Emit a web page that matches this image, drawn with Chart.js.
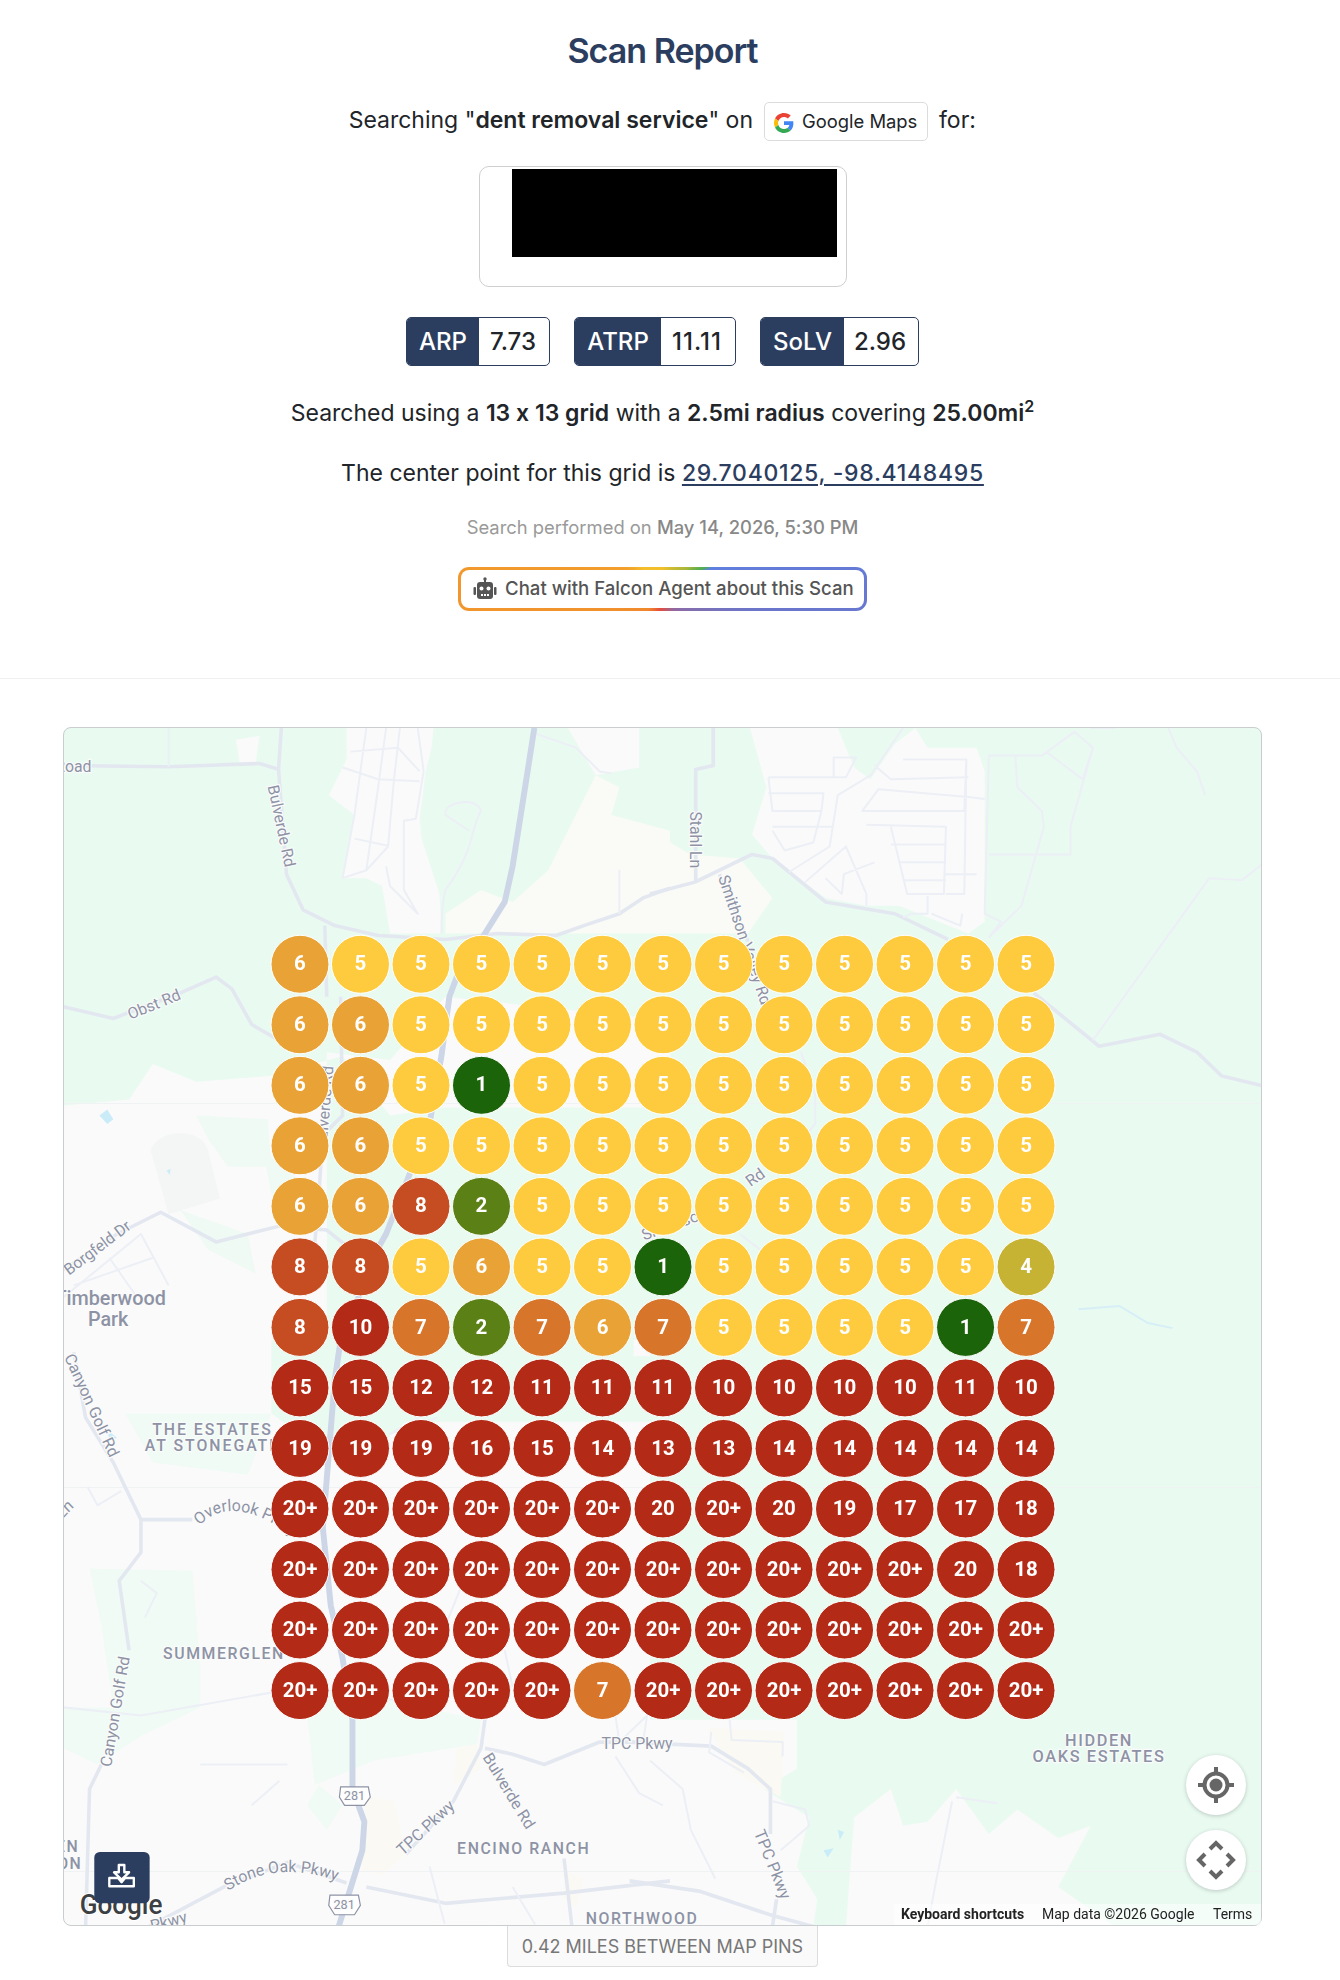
<!DOCTYPE html>
<html lang="en">
<head>
<meta charset="UTF-8">
<title>Scan Report</title>
<script src="https://cdn.jsdelivr.net/npm/chart.js@4"></script>
<style>
  html, body { margin: 0; padding: 0; background: #fff; }
  body { position: relative; width: 1340px; height: 1980px; overflow: hidden; font-family: Inter, sans-serif; font-feature-settings: "calt" 0; color: #212529; }
  .line { position: absolute; left: 0; width: 1325px; text-align: center; white-space: nowrap; }
  h1 { position: absolute; left: 0; width: 1325px; top: 28px; margin: 0; text-align: center; font-size: 34px; line-height: 46px; font-weight: 600; letter-spacing: -1px; color: #2c3e5f; }
  b { font-weight: 600; }
  a { color: #2c3e5f; font-weight: 500; letter-spacing: .7px; text-decoration: underline; text-decoration-thickness: 2px; text-underline-offset: 3px; }
  sup { font-size: 16px; line-height: 0; }
  .maps-pill { position: absolute; left: 764px; top: 102px; width: 164px; height: 39px; box-sizing: border-box; border: 1px solid #dcdcdc; border-radius: 5px; font-size: 18.4px; line-height: 37px; padding-left: 37px; color: #212529; }
  .maps-pill svg { position: absolute; left: 9px; top: 10px; }
  .logo-box { position: absolute; left: 479px; top: 166px; width: 368px; height: 121px; box-sizing: border-box; border: 1px solid #cfcfcf; border-radius: 10px; }
  .redact { position: absolute; left: 512px; top: 169px; width: 325px; height: 88px; background: #000; }
  .badge { position: absolute; top: 317px; height: 49px; box-sizing: border-box; border: 1px solid #2c3e5f; border-radius: 5px; font-size: 24px; line-height: 47px; font-weight: 500; overflow: hidden; background: #fff; }
  .badge span { position: absolute; top: 0; bottom: 0; left: 0; background: #2c3e5f; color: #fff; text-align: center; }
  .badge i { position: absolute; top: 0; bottom: 0; right: 0; font-style: normal; text-align: center; }
  .chat { position: absolute; left: 458px; top: 567px; width: 409px; height: 44px; box-sizing: border-box; padding: 3px; border-radius: 11px;
    background: conic-gradient(#f0c02a 0deg, #a9b63a 50deg, #4caf50 63deg, #5f80e0 67deg, #6a76cc 100deg, #7d70b5 117deg, #9368a0 150deg, #e64c3c 187deg, #f0862e 215deg, #f2a02c 300deg, #f5bd2c 316deg, #f0c02a 360deg); }
  .chat div { position: relative; height: 38px; background: #fff; border-radius: 8px; font-size: 18.6px; font-weight: 500; color: #555; line-height: 36px; padding-left: 44px; white-space: nowrap; }
  .chat svg { position: absolute; left: 11px; top: 6px; }
  .divider { position: absolute; left: 0; right: 0; top: 678px; height: 1px; background: #efefef; }
  #map { position: absolute; left: 0; top: 0; }
  #map text { font-family: Roboto, sans-serif; fill: #8d93a5; stroke: #fbfbfb; stroke-width: 6px; paint-order: stroke; }
  .frame { position: absolute; left: 63px; top: 727px; width: 1199px; height: 1199px; box-sizing: border-box; border: 1px solid #c9cdd0; border-radius: 8px; pointer-events: none; }
  #gridChart { position: absolute; left: 63px; top: 727px; }
  .ctrl { position: absolute; left: 1186px; width: 60px; height: 60px; border-radius: 50%; background: #fff; box-shadow: 0 1px 4px rgba(0,0,0,.2); }
  .ctrl svg { position: absolute; left: 0; top: 0; }
  .attrib { position: absolute; top: 1904px; left: 894px; height: 21px; width: 367px; background: rgba(255,255,255,.5); font: 14px/21px Roboto, sans-serif; color: #222; white-space: nowrap; }
  .attrib span { position: absolute; top: 0; }
  .miles { position: absolute; left: 507px; top: 1926px; width: 311px; height: 41px; box-sizing: border-box; border: 1px solid #dcdcdc; border-top: 0; border-radius: 0 0 4px 4px; background: #fafafa; text-align: center; font-size: 18px; line-height: 42px; color: #777; white-space: nowrap; }
</style>
</head>
<body>

<h1>Scan Report</h1>
<div class="line" style="top:105px;left:-115px;font-size:23px;line-height:30px;text-align:right;width:868px">Searching "<b>dent removal service</b>" on</div>
<div class="maps-pill">
  <svg width="20" height="20" viewBox="0 0 48 48"><path fill="#EA4335" d="M24 9.500c3.500 0 6.700 1.200 9.200 3.600l6.900-6.900C35.900 2.400 30.500 0 24 0 14.600 0 6.500 5.400 2.600 13.200l8 6.200C12.400 13.700 17.700 9.500 24 9.500z"/><path fill="#4285F4" d="M46.500 24.500c0-1.600-.1-3.100-.4-4.500H24v9h12.700c-.6 3-2.200 5.500-4.700 7.200l7.700 6c4.500-4.200 6.800-10.300 6.800-17.700z"/><path fill="#FBBC05" d="M10.500 28.600c-.5-1.400-.8-3-.8-4.600s.3-3.200.8-4.600l-8-6.200C.9 16.500 0 20.100 0 24s.9 7.500 2.600 10.800l7.900-6.200z"/><path fill="#34A853" d="M24 48c6.500 0 11.900-2.100 15.900-5.800l-7.700-6c-2.200 1.500-4.900 2.300-8.200 2.300-6.300 0-11.600-4.200-13.500-9.900l-8 6.200C6.500 42.600 14.600 48 24 48z"/></svg>
  Google Maps
</div>
<div class="line" style="top:105px;left:939px;width:40px;font-size:23px;line-height:30px;text-align:left">for:</div>

<div class="logo-box"></div>
<div class="redact"></div>

<div class="badge" style="left:406px;width:144px"><span style="width:72px">ARP</span><i style="width:72px">7.73</i></div>
<div class="badge" style="left:574px;width:162px"><span style="width:86px">ATRP</span><i style="width:76px;letter-spacing:1px">11.11</i></div>
<div class="badge" style="left:760px;width:159px"><span style="width:83px">SoLV</span><i style="width:76px">2.96</i></div>

<div class="line" style="top:398px;font-size:23px;line-height:30px">Searched using a <b>13 x 13 grid</b> with a <b>2.5mi radius</b> covering <b>25.00mi<sup>2</sup></b></div>
<div class="line" style="top:458px;font-size:23px;line-height:30px">The center point for this grid is <a>29.7040125, -98.4148495</a></div>
<div class="line" style="top:515px;font-size:18.4px;line-height:24px;color:#9a9a9a">Search performed on <span style="font-weight:500;color:#888">May 14, 2026, 5:30 PM</span></div>

<div class="chat"><div>
  <svg width="26" height="26" viewBox="0 0 26 26" fill="#555"><rect x="12" y="2" width="2" height="4"/><circle cx="13" cy="3" r="1.700"/><rect x="5" y="6" width="16" height="17" rx="3"/><rect x="1.500" y="11" width="2.500" height="8" rx="1"/><rect x="22" y="11" width="2.500" height="8" rx="1"/><circle cx="9.500" cy="12.500" r="2" fill="#fff"/><circle cx="16.500" cy="12.500" r="2" fill="#fff"/><rect x="9" y="18" width="2" height="2" fill="#fff"/><rect x="12" y="18" width="2" height="2" fill="#fff"/><rect x="15" y="18" width="2" height="2" fill="#fff"/></svg>
  Chat with Falcon Agent about this Scan
</div></div>

<div class="divider"></div>

<!-- basemap, traced by eye in four quadrants -->
<svg id="map" width="1340" height="1980" viewBox="0 0 1340 1980">
  <defs>
    <clipPath id="mapClip"><rect x="63" y="727" width="1199" height="1199" rx="8"/></clipPath>
    <path id="overlookCurve" d="M378 455Q460 370 620 485"/>
    <path id="stoneOakCurve" d="M450 1350Q580 1265 750 1335"/>
  </defs>
  <g clip-path="url(#mapClip)">
    <rect x="63" y="727" width="1199" height="1199" fill="#e9faf1"/>

    <g transform="translate(50 720) scale(.3954)" fill="#fafafa">
      <path d="M750 20L970 20 965 70 950 130 935 250 940 300 985 440 990 540 860 540 840 420 800 400 740 400 770 240 705 190 750 100Z"/>
      <path fill="#fafaf6" d="M1000 490L1090 430 1170 460 1260 380 1380 140 1440 170 1420 240 1568 280 1568 540 1000 540Z"/>
      <path d="M1310 20L1490 20 1490 120 1380 140Z"/>
      <path d="M470 50L530 40 520 110 480 110Z"/>
      <path d="M34 975L200 960 260 870 370 915 560 900 740 850 860 1000 1000 980 1568 980 1568 760 1000 700 860 860 700 840 700 1568 34 1568Z"/>
      <path fill="#eefaf3" d="M370 1000L550 1010 560 1130 450 1130 400 1060ZM330 1240L500 1300 520 1400 400 1340ZM540 1090L650 1180 640 1270 560 1200Z"/>
      <path fill="#f4f5f5" d="M255 1090C270 1030 390 1030 400 1090L430 1210 300 1250Z"/>
      <path fill="#c9ecf8" d="M125 1000L145 985 160 1010 145 1022ZM295 1140L305 1135 303 1150Z"/>
    </g>

    <g transform="translate(650 720) scale(.4082 .3954)" fill="#fafafa">
      <path d="M245 20L460 20 500 120 540 150 600 60 650 20 680 70 800 70 820 130 820 510 780 540 610 470 530 470 430 450 300 350 250 290 285 170Z"/>
      <path fill="#fafaf6" d="M0 280L100 340 220 350 300 450 240 540 0 540Z"/>
    </g>

    <g transform="translate(50 1340) scale(.3954 .4082)" fill="#fafafa">
      <path d="M34 0L560 0 560 180 760 320 900 200 1568 200 1568 1437 34 1437Z"/>
      <path fill="#f0fbf5" d="M100 560L360 565 380 800 380 900 230 970 120 1040 34 1000 34 900 160 900 130 700ZM190 180L560 180 500 330 260 300ZM640 840L1090 930 1080 990 820 1030 670 1090ZM680 1090L740 1140 700 1200 650 1140Z"/>
      <path fill="#fbf9f3" d="M1030 1000L1080 990 1090 1050 1020 1090ZM800 1120L870 1130 900 1260 840 1310 790 1300ZM1300 1300L1350 1320 1330 1390 1300 1370Z"/>
      <path fill="#c9ecf8" d="M145 220L170 240 150 245Z"/>
    </g>

    <g transform="translate(650 1340) scale(.4082)" fill="#fafafa">
      <path fill="#e9faf1" d="M0 0L1000 0 1000 930 0 930Z"/>
      <path d="M-40 0L0 0 0 40 -40 40ZM-30 930L360 930 360 1050 280 1100 390 1170 360 1290 410 1370 400 1437 -30 1437Z"/>
      <path fill="#fbf9f3" d="M140 950L330 960 320 1120 210 1060Z"/>
      <path d="M500 1170L590 1100 620 1190 680 1180 750 1100 830 1210 900 1150 1000 1220 1080 1190 1000 1340 1140 1437 480 1437Z"/>
      <path fill="#c9ecf8" d="M460 1200L475 1205 465 1225ZM425 1250L450 1245 435 1268Z"/>
    </g>

    <!-- water on the right -->
    <g transform="translate(650 720) scale(.4082 .3954)"><path fill="none" stroke="#d6eff7" stroke-width="5" d="M1050 1490L1150 1482 1220 1525 1280 1538"/></g>

    <!-- tile seams -->
    <g stroke="#eff3f3" stroke-width="1">
      <path d="M63 1103.500H1262M63 1487.500H1262M63 1871.500H1262"/>
    </g>

    <!-- roads -->
    <g fill="none" stroke="#e3e7f0" stroke-width="9" stroke-linejoin="round">
      <g transform="translate(50 720) scale(.3954)">
        <path d="M34 115L300 118 530 110 578 125M585 20L578 125 598 390 640 480 720 520 830 545 1000 555 1130 540 1280 545 1350 520 1440 490 1500 450 1568 425"/>
        <path d="M34 725L160 755 330 690 420 650 460 680 510 770 570 805M34 1390L170 1300 280 1245 420 1320 580 1280 700 1290 750 1330"/>
        <path d="M695 520L700 700M735 700L740 1000 690 1050 680 1200 670 1320"/>
        <g stroke-width="5" stroke="#eceff5">
          <path d="M800 20L770 240 740 400 800 380 855 320 870 150 885 20M850 20L830 170 800 380M760 80L880 70 935 130M740 120L830 150 935 155M770 300L855 318M930 20L945 130 925 250 895 255 895 430 930 490 860 420 850 370"/>
          <path d="M1230 35L1330 70 1390 130 1420 135M1000 240C990 210 1080 190 1090 230 1060 280 1080 320 1000 430 990 470 990 540 990 540M1000 240L1060 280M1440 380L1440 490"/>
          <path d="M300 20L300 118M34 1460L230 1300 300 1430M60 1430L260 1360M150 1360L220 1460"/>
        </g>
      </g>
      <g transform="translate(650 720) scale(.4082 .3954)">
        <path d="M0 440L110 410 250 340 300 350 430 460 600 490 730 555M155 20L155 115 112 125 112 410M170 390L240 560M940 690L1100 825 1250 795 1340 840 1400 900 1500 925"/>
        <g stroke-width="5" stroke="#eceff5">
          <path d="M290 145L480 145 505 95 450 95 450 145M290 185L425 185 420 230 300 230 290 145M300 270L450 270M300 280L330 330 400 310 420 230M340 385L440 320 460 190 540 140 620 20M550 115L590 150 780 145M620 100L775 100 770 230 520 230 560 175 780 195 820 200M530 265L725 270 720 440 630 440 590 270M590 315L725 315M610 360L725 360M620 405L725 405M775 100L770 440 725 440M830 90L820 490 860 510 830 550M830 90L960 90 1040 30 1085 70 1060 150 970 80M895 90L900 170 960 230 965 270 910 470 830 550M830 340L1030 340 1030 270 1085 70M380 410L480 320 530 440 530 470M430 400L470 440 475 390 550 360M680 445L680 490 640 490 620 500M690 490L760 520 765 490M800 390L720 390"/>
          <path d="M1270 20L1290 70 1340 130 1360 190M1085 810L1370 400 1450 405 1500 365M1080 20L1140 20M370 840L405 950 405 1020 390 1040M220 1300L270 1340"/>
        </g>
      </g>
      <g transform="translate(50 1340) scale(.3954 .4082)">
        <path d="M60 30L90 190 160 300 230 440 230 520 175 590 200 760M130 1040L100 1100 90 1437M230 440L360 440M1100 930L1090 1000 1020 1130 900 1260M1100 1000L1170 1015 1250 1040 1390 985 1568 985M250 1437L440 1340 600 1280 750 1330M800 1340L1000 1380 1300 1355 1568 1325M1300 1270L1320 1437"/>
        <path stroke-width="5" stroke="#eceff5" d="M95 360L120 405 180 370M34 900L230 920 640 850 1000 900M230 590L270 620 240 680M380 1040L600 1040M510 1140L580 1080M960 1290L1000 1437M1150 760L1170 850M1040 130L860 230 980 190M1000 700L1050 580M1330 430L1250 470 1300 540M1430 920L1440 985 1510 920 1500 985M1430 1020L1490 1110 1550 1140M1170 1340L1230 1437"/>
      </g>
      <g transform="translate(650 1340) scale(.4082)">
        <path d="M-50 985L150 995 240 1050 295 1100 295 1210M310 1370L300 1437M-50 1325L120 1350 300 1410 400 1437"/>
        <path stroke-width="5" stroke="#eceff5" d="M0 1030L80 1100 100 1200 160 1320M150 960L145 1010 230 1060M195 930L200 980 325 985 325 1020M300 1130L380 1150 390 1190 320 1250M750 1120L850 1135M740 1130L700 1330 680 1437"/>
      </g>
    </g>

    <!-- highway 281 -->
    <g fill="none" stroke="#ccd6e7" stroke-width="15" stroke-linejoin="round">
      <g transform="translate(50 720) scale(.3954)"><path d="M1225 20L1200 180 1170 370 1150 460 1100 540 1040 620 1010 700 990 850 960 1020 850 1300 810 1370 745 1568"/></g>
      <g transform="translate(50 1340) scale(.3954 .4082)"><path d="M735 0L720 100 705 280 690 460 710 650 740 780 765 930 765 1100 795 1180 790 1250 730 1437"/></g>
    </g>

    <!-- labels -->
    <g transform="translate(50 720) scale(.3954)" font-size="40">
      <text x="105" y="132" text-anchor="end">Road</text>
      <text transform="translate(585 268) rotate(78)" text-anchor="middle" dy="13">Bulverde Rd</text>
      <text transform="translate(263 720) rotate(-22)" text-anchor="middle" dy="13">Obst Rd</text>
      <text transform="translate(120 1335) rotate(-37)" text-anchor="middle" dy="13">Borgfeld Dr</text>
      <text transform="translate(695 980) rotate(-85)" text-anchor="middle" dy="13">Bulverde Rd</text>
      <text x="293" y="1480" text-anchor="end" font-size="50" font-weight="500">Timberwood</text>
      <text x="147" y="1533" text-anchor="middle" font-size="50" font-weight="500">Park</text>
    </g>
    <g transform="translate(650 720) scale(.4082 .3954)" font-size="40">
      <text transform="translate(112 303) rotate(90)" text-anchor="middle" dy="13">Stahl Ln</text>
      <text transform="translate(232 556) rotate(72)" text-anchor="middle" dy="13">Smithson Valley Rd</text>
      <text transform="translate(258 1157) rotate(-35)" text-anchor="middle" dy="13">Rd</text>
      <text transform="translate(60 1275) rotate(-20)" text-anchor="middle" dy="13">Smithson</text>
    </g>
    <g transform="translate(50 1340) scale(.3954 .4082)" font-size="40">
      <text transform="translate(105 160) rotate(65)" text-anchor="middle" dy="13">Canyon Golf Rd</text>
      <text x="411" y="232" text-anchor="middle" letter-spacing="5" font-weight="500">THE ESTATES</text>
      <text x="411" y="273" text-anchor="middle" letter-spacing="5" font-weight="500">AT STONEGATE</text>
      <text><textPath href="#overlookCurve">Overlook Pkwy</textPath></text>
      <text x="440" y="782" text-anchor="middle" letter-spacing="4" font-weight="500">SUMMERGLEN</text>
      <text transform="translate(165 910) rotate(-80)" text-anchor="middle" dy="13">Canyon Golf Rd</text>
      <text x="1395" y="1003">TPC Pkwy</text>
      <text transform="translate(1160 1105) rotate(58)" text-anchor="middle" dy="13">Bulverde Rd</text>
      <text transform="translate(950 1195) rotate(-42)" text-anchor="middle" dy="13">TPC Pkwy</text>
      <text x="1198" y="1259" text-anchor="middle" letter-spacing="4" font-weight="500">ENCINO RANCH</text>
      <text><textPath href="#stoneOakCurve">Stone Oak Pkwy</textPath></text>
      <text transform="translate(300 1425) rotate(-15)" text-anchor="middle" dy="13">Pkwy</text>
      <text x="1355" y="1430" letter-spacing="4" font-weight="500">NORTHWOOD</text>
      <text x="1140" y="1462" text-anchor="middle" letter-spacing="4" font-weight="500">THE TERRACES</text>
      <text x="74" y="1255" text-anchor="end" letter-spacing="4" font-weight="500">EN</text>
      <text x="82" y="1297" text-anchor="end" letter-spacing="4" font-weight="500">ON</text>
      <text transform="translate(22 430) rotate(-45)" dy="13">Ln</text>
      <g>
        <path d="M735 1095L805 1095 810 1120 795 1140 745 1140 732 1120Z" fill="#fff" stroke="#8d93a5" stroke-width="3"/>
        <text x="770" y="1128" text-anchor="middle" font-size="32" stroke-width="0">281</text>
        <path d="M708 1360L780 1360 785 1385 770 1408 720 1408 705 1385Z" fill="#fff" stroke="#8d93a5" stroke-width="3"/>
        <text x="744" y="1395" text-anchor="middle" font-size="32" stroke-width="0">281</text>
      </g>
      <text x="75" y="1405" font-size="66" font-weight="500" style="fill:#3c4043;stroke:#fff;stroke-width:5px">Google</text>
      <rect x="112" y="1254" width="140" height="126" rx="14" fill="#2c3e5f"/>
      <path d="M150 1318L150 1338 212 1338 212 1318 190 1318 181 1328 172 1318Z" fill="none" stroke="#fff" stroke-width="6" stroke-linejoin="round"/>
      <path d="M174 1286H188V1304H200L181 1322 162 1304H174Z" fill="none" stroke="#fff" stroke-width="6" stroke-linejoin="round"/>
    </g>
    <g transform="translate(650 1340) scale(.4082)" font-size="40">
      <text x="1100" y="994" text-anchor="middle" letter-spacing="4" font-weight="500">HIDDEN</text>
      <text x="1100" y="1034" text-anchor="middle" letter-spacing="4" font-weight="500">OAKS ESTATES</text>
      <text transform="translate(300 1285) rotate(68)" text-anchor="middle" dy="13">TPC Pkwy</text>
    </g>
  </g>
</svg>

<canvas id="gridChart" width="1199" height="1199"></canvas>
<div class="frame"></div>

<div class="ctrl" style="top:1755px"><svg width="60" height="60" viewBox="0 0 60 60" fill="none" stroke="#666"><circle cx="30" cy="30" r="11.500" stroke-width="4"/><circle cx="30" cy="30" r="6.500" fill="#666" stroke="none"/><path stroke-width="4" d="M30 12V19M30 41V48M12 30H19M41 30H48"/></svg></div>
<div class="ctrl" style="top:1830px"><svg width="60" height="60" viewBox="0 0 60 60" fill="none" stroke="#666" stroke-width="4"><path d="M24 19L30 13 36 19M24 41L30 47 36 41M19 24L13 30 19 36M41 24L47 30 41 36"/></svg></div>
<div class="attrib">
  <span style="left:7px;font-weight:700">Keyboard shortcuts</span>
  <span style="left:148px">Map data ©2026 Google</span>
  <span style="left:319px">Terms</span>
</div>
<div class="miles">0.42 MILES BETWEEN MAP PINS</div>

<script>
// rank per grid pin, one array per row, 21 stands for "20+"
const row1 = [6, 5, 5, 5, 5, 5, 5, 5, 5, 5, 5, 5, 5];
const row2 = [6, 6, 5, 5, 5, 5, 5, 5, 5, 5, 5, 5, 5];
const row3 = [6, 6, 5, 1, 5, 5, 5, 5, 5, 5, 5, 5, 5];
const row4 = [6, 6, 5, 5, 5, 5, 5, 5, 5, 5, 5, 5, 5];
const row5 = [6, 6, 8, 2, 5, 5, 5, 5, 5, 5, 5, 5, 5];
const row6 = [8, 8, 5, 6, 5, 5, 1, 5, 5, 5, 5, 5, 4];
const row7 = [8, 10, 7, 2, 7, 6, 7, 5, 5, 5, 5, 1, 7];
const row8 = [15, 15, 12, 12, 11, 11, 11, 10, 10, 10, 10, 11, 10];
const row9 = [19, 19, 19, 16, 15, 14, 13, 13, 14, 14, 14, 14, 14];
const row10 = [21, 21, 21, 21, 21, 21, 20, 21, 20, 19, 17, 17, 18];
const row11 = [21, 21, 21, 21, 21, 21, 21, 21, 21, 21, 21, 20, 18];
const row12 = [21, 21, 21, 21, 21, 21, 21, 21, 21, 21, 21, 21, 21];
const row13 = [21, 21, 21, 21, 21, 7, 21, 21, 21, 21, 21, 21, 21];
const rows = [row1, row2, row3, row4, row5, row6, row7, row8, row9, row10, row11, row12, row13];

function rankColor(rank) {
    if (rank >= 9) return "#b32a16";
    return { 1: "#1c640a", 2: "#5b8016", 3: "#8f9a24", 4: "#c6b233", 5: "#fdcb3d", 6: "#e9a236", 7: "#d7752b", 8: "#c64c21" }[rank];
}

const pins = [];
rows.forEach((row, r) => row.forEach((rank, c) => pins.push({ x: c, y: r, rank: rank })));

// writes the rank on each pin
const pinLabels = {
    id: "pinLabels",
    afterDatasetsDraw(chart) {
        const ctx = chart.ctx;
        ctx.save();
        ctx.fillStyle = "#fff";
        ctx.font = "700 20.5px Roboto, sans-serif";
        ctx.textAlign = "center";
        ctx.textBaseline = "middle";
        chart.getDatasetMeta(0).data.forEach((pt, i) => {
            const rank = pins[i].rank;
            ctx.fillText(rank > 20 ? "20+" : String(rank), pt.x, pt.y + 1);
        });
        ctx.restore();
    }
};

new Chart(document.getElementById("gridChart"), {
    type: "scatter",
    data: {
        datasets: [{
            data: pins,
            pointRadius: 29,
            pointBorderWidth: 1,
            pointBorderColor: "#fff",
            pointBackgroundColor: c => rankColor(c.raw.rank),
            clip: false
        }]
    },
    options: {
        responsive: false,
        animation: false,
        devicePixelRatio: 1,
        layout: { padding: 0, autoPadding: false },
        plugins: { legend: { display: false }, tooltip: { enabled: false } },
        scales: {
            x: { display: false, min: -3.917, max: 15.9 },
            y: { display: false, min: -3.92, max: 15.89, reverse: true }
        }
    },
    plugins: [pinLabels]
});
</script>
</body>
</html>
